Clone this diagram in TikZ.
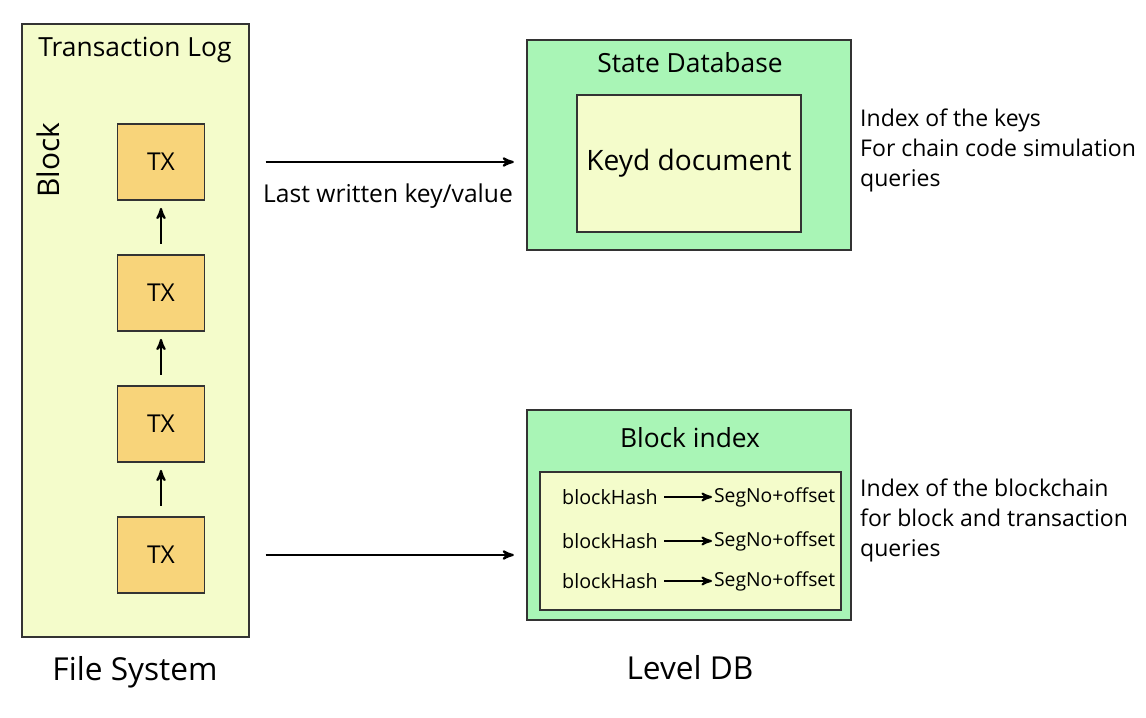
\documentclass[tikz,border=0pt]{standalone}
\usepackage{fontspec}
\setmainfont{Open Sans}
\usetikzlibrary{arrows, positioning}
\definecolor{logyellow}{HTML}{F4FCCB}
\definecolor{txorange}{HTML}{F8D47A}
\definecolor{dbgreen}{HTML}{A9F5B6}
\begin{document}
\begin{tikzpicture}[>=stealth',node distance=2.62cm,on grid,
    box/.style={draw=black!80,line width=1pt},
    txbox/.style={box,fill=txorange,minimum width=1.74cm,minimum height=1.52cm,font=\fontsize{14}{16}\selectfont},
    link/.style={->,line width=1.2pt},
    note/.style={align=left,anchor=north west,font=\fontsize{13.1}{17}\selectfont},
    caption/.style={font=\fontsize{18}{20}\selectfont}]
            \useasboundingbox (0,0) rectangle (22.92,14.36);
            \node[box,fill=logyellow,minimum width=4.54cm,minimum height=12.26cm] (log) at (2.71,7.75) {};
            \node[font=\fontsize{15}{17}\selectfont] (logtitle) at (2.7,13.36) {Transaction Log};
            \node[rotate=90,font=\fontsize{17}{19}\selectfont] (block) at (0.96,11.16) {Block};
            \node[txbox] (tx1) at (3.22,11.12) {TX};
            \node[txbox] (tx2) [below =of tx1] {TX};
            \node[txbox] (tx3) [below =of tx2] {TX};
            \node[txbox] (tx4) [below =of tx3] {TX};
            \draw[link,shorten <=6pt,shorten >=4pt] (tx2) -- (tx1);
            \draw[link,shorten <=6pt,shorten >=4pt] (tx3) -- (tx2);
            \draw[link,shorten <=6pt,shorten >=4pt] (tx4) -- (tx3);
            % state database
            \node[box,fill=dbgreen,minimum width=6.48cm,minimum height=4.2cm] (statedb) at (13.78,11.46) {};
            \node[font=\fontsize{15}{17}\selectfont] (statetitle) at (13.8,13.1) {State Database};
            \node[box,fill=logyellow,minimum width=4.48cm,minimum height=2.74cm,font=\fontsize{16}{18}\selectfont] (keyd) at (13.78,11.09) {Keyd document};
            % block index
            \node[box,fill=dbgreen,minimum width=6.48cm,minimum height=4.2cm] (blockidx) at (13.78,4.06) {};
            \node[font=\fontsize{15}{17}\selectfont] (idxtitle) at (13.8,5.6) {Block index};
            \node[box,line width=1.4pt,fill=logyellow,minimum width=6.02cm,minimum height=2.76cm] (idxlist) at (13.81,3.54) {};
            \foreach \i/\y in {1/4.42,2/3.54,3/2.74} {
                \node[anchor=east,font=\fontsize{11.2}{13}\selectfont] (hash\i) at (13.28,\y) {blockHash};
                \node[anchor=west,inner sep=1pt,font=\fontsize{11}{13}\selectfont] (seg\i) at (14.24,\y) {SegNo+offset};
                \draw[->,line width=1.1pt] (hash\i) -- (seg\i);
            }
            % connectors
            \draw[link,shorten <=9pt,shorten >=7pt] (log.east |- tx1) -- node[below=0.3cm,font=\fontsize{14}{16}\selectfont] {Last written key/value} (statedb.west |- tx1);
            \draw[link,shorten <=9pt,shorten >=7pt] (log.east |- tx4) -- (blockidx.west |- tx4);
            % notes
            \node[note] (keysnote) at (17.08,12.3) {Index of the keys\\For chain code simulation\\queries};
            \node[note] (chainnote) at (17.08,4.9) {Index of the blockchain\\for block and transaction\\queries};
            \node[caption] (fs) at (2.7,0.92) {File System};
            \node[caption] (ldb) at (13.8,1.0) {Level DB};
        \end{tikzpicture}
\end{document}
